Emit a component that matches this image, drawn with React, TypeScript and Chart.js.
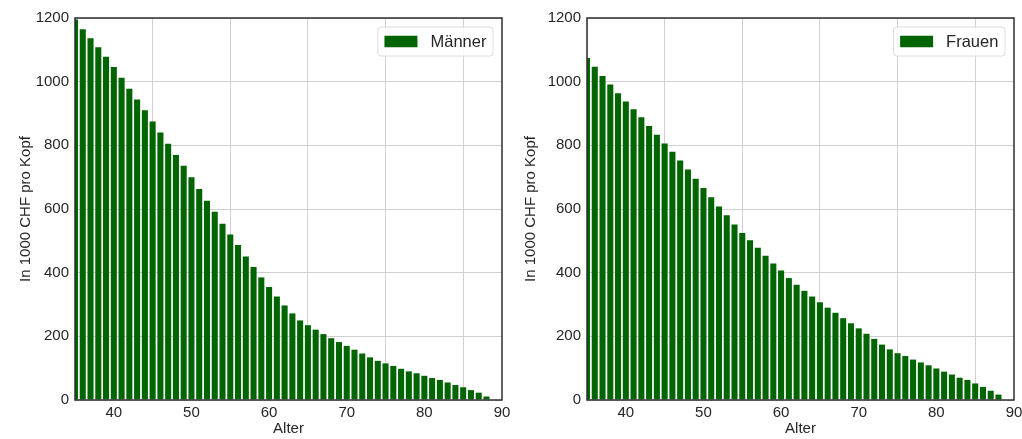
import React, { useEffect, useRef } from "react";
import { Chart, registerables } from "chart.js";

Chart.register(...registerables);

const AGES = [
  35, 36, 37, 38, 39, 40, 41, 42, 43, 44, 45, 46, 47, 48, 49, 50, 51, 52, 53, 54,
  55, 56, 57, 58, 59, 60, 61, 62, 63, 64, 65, 66, 67, 68, 69, 70, 71, 72, 73, 74,
  75, 76, 77, 78, 79, 80, 81, 82, 83, 84, 85, 86, 87, 88,
];

const MEN = [
  1195, 1165, 1136, 1108, 1078, 1046, 1012, 978, 944, 910, 875, 840, 805, 770, 736, 700, 663, 626, 591, 554,
  520, 487, 451, 418, 385, 355, 325, 297, 272, 250, 235, 221, 207, 194, 182, 170, 158, 146, 134, 123,
  115, 107, 98, 90, 84, 76, 69, 63, 55, 47, 40, 31, 23, 11,
];

const WOMEN = [
  1074, 1047, 1018, 991, 964, 938, 913, 888, 861, 833, 806, 780, 752, 724, 695, 666, 637, 608, 580, 551,
  525, 502, 478, 453, 429, 407, 383, 362, 343, 325, 307, 290, 274, 257, 241, 225, 208, 192, 174, 159,
  147, 138, 127, 118, 109, 99, 89, 80, 70, 63, 52, 41, 29, 17,
];

const X_TICKS = [40, 50, 60, 70, 80, 90];
const Y_TICKS = [0, 200, 400, 600, 800, 1000, 1200];
const X_MIN = 35;
const X_MAX = 90;
const Y_MIN = 0;
const Y_MAX = 1200;

const Y_TITLE = "In 1000 CHF pro Kopf";
const X_TITLE = "Alter";
const LABEL_MEN = "Männer";
const LABEL_WOMEN = "Frauen";

const FONT = "'Liberation Sans', Arial, sans-serif";
const TEXT = "#262626";
const BAR = "#006400";
const GRID = "#d0d0d0";
const SPINE = "#2e2e2e";

const W = 511;
const H = 439;

type PanelProps = {
  label: string;
  values: number[];
  yAxisWidth: number;
  titlePad: number;
  rightPad: number;
};

function Panel({ label, values, yAxisWidth, titlePad, rightPad }: PanelProps) {
  const ref = useRef<HTMLCanvasElement | null>(null);

  useEffect(() => {
    if (!ref.current) return;

    const framePlugin = {
      id: "frame",
      afterDatasetsDraw(chart: any) {
        const { ctx, chartArea } = chart;
        ctx.save();
        ctx.strokeStyle = SPINE;
        ctx.lineWidth = 1.5;
        ctx.strokeRect(chartArea.left, chartArea.top, chartArea.right - chartArea.left, chartArea.bottom - chartArea.top);
        ctx.restore();
      },
    };

    const legendPlugin = {
      id: "boxLegend",
      afterDraw(chart: any) {
        const { ctx, chartArea } = chart;
        const text = chart.data.datasets[0].label as string;
        const fs = 16.5;
        ctx.save();
        ctx.font = `${fs}px ${FONT}`;
        const tw = ctx.measureText(text).width;
        const pad = 6.6;
        const patchW = 33;
        const patchH = 11.5;
        const gap = 13;
        const bw = pad + patchW + gap + tw + pad;
        const bh = 29;
        const right = chartArea.right - 9;
        const top = chartArea.top + 9;
        const left = right - bw;
        const r = 3;
        ctx.beginPath();
        ctx.moveTo(left + r, top);
        ctx.lineTo(left + bw - r, top);
        ctx.arcTo(left + bw, top, left + bw, top + r, r);
        ctx.lineTo(left + bw, top + bh - r);
        ctx.arcTo(left + bw, top + bh, left + bw - r, top + bh, r);
        ctx.lineTo(left + r, top + bh);
        ctx.arcTo(left, top + bh, left, top + bh - r, r);
        ctx.lineTo(left, top + r);
        ctx.arcTo(left, top, left + r, top, r);
        ctx.closePath();
        ctx.fillStyle = "rgba(255,255,255,0.85)";
        ctx.fill();
        ctx.strokeStyle = "#dcdcdc";
        ctx.lineWidth = 1;
        ctx.stroke();
        const cy = top + bh / 2;
        ctx.fillStyle = BAR;
        ctx.fillRect(left + pad, cy - patchH / 2, patchW, patchH);
        ctx.fillStyle = TEXT;
        ctx.textBaseline = "middle";
        ctx.textAlign = "left";
        ctx.fillText(text, left + pad + patchW + gap, cy + 1);
        ctx.restore();
      },
    };

    const chart = new Chart(ref.current, {
      type: "bar",
      data: {
        datasets: [
          {
            label,
            data: AGES.map((a, i) => ({ x: a, y: values[i] })),
            backgroundColor: BAR,
            borderWidth: 0,
            barPercentage: 0.78,
            categoryPercentage: 1.0,
          },
        ],
      },
      options: {
        responsive: false,
        animation: false,
        layout: { padding: { left: 0, right: rightPad, top: 18, bottom: 0 } },
        plugins: {
          legend: { display: false },
          tooltip: { enabled: false },
        },
        scales: {
          x: {
            type: "linear",
            min: X_MIN,
            max: X_MAX,
            offset: false,
            afterBuildTicks: (scale: any) => {
              scale.ticks = X_TICKS.map((v) => ({ value: v }));
            },
            afterFit: (scale: any) => {
              scale.height = 39;
              scale.paddingLeft = 0;
              scale.paddingRight = 0;
            },
            grid: { color: GRID, lineWidth: 1, drawTicks: false },
            border: { display: false },
            ticks: {
              color: TEXT,
              padding: 4,
              maxRotation: 0,
              autoSkip: false,
              font: { family: FONT, size: 15 },
              callback: (v: any) => String(v),
            },
            title: {
              display: true,
              text: X_TITLE,
              color: TEXT,
              padding: { top: 0, bottom: 1 },
              font: { family: FONT, size: 15 },
            },
          },
          y: {
            min: Y_MIN,
            max: Y_MAX,
            afterBuildTicks: (scale: any) => {
              scale.ticks = Y_TICKS.map((v) => ({ value: v }));
            },
            afterFit: (scale: any) => {
              scale.width = yAxisWidth;
              scale.paddingTop = 0;
              scale.paddingBottom = 0;
            },
            grid: { color: GRID, lineWidth: 1, drawTicks: false },
            border: { display: false },
            ticks: {
              color: TEXT,
              padding: 6,
              font: { family: FONT, size: 15 },
              callback: (v: any) => String(v),
            },
            title: {
              display: true,
              text: Y_TITLE,
              color: TEXT,
              padding: { top: titlePad, bottom: 0 },
              font: { family: FONT, size: 15 },
            },
          },
        },
      },
      plugins: [framePlugin, legendPlugin],
    } as any);

    return () => chart.destroy();
  }, [label, values, yAxisWidth, titlePad, rightPad]);

  return <canvas ref={ref} width={W} height={H} style={{ display: "block", width: W, height: H }} />;
}

export default function App() {
  return (
    <div
      style={{
        position: "fixed",
        left: 0,
        top: 0,
        width: 1022,
        height: 439,
        background: "#ffffff",
        display: "flex",
        flexDirection: "row",
      }}
    >
      <Panel label={LABEL_MEN} values={MEN} yAxisWidth={75} titlePad={17} rightPad={9} />
      <Panel label={LABEL_WOMEN} values={WOMEN} yAxisWidth={76} titlePad={11} rightPad={8} />
    </div>
  );
}
